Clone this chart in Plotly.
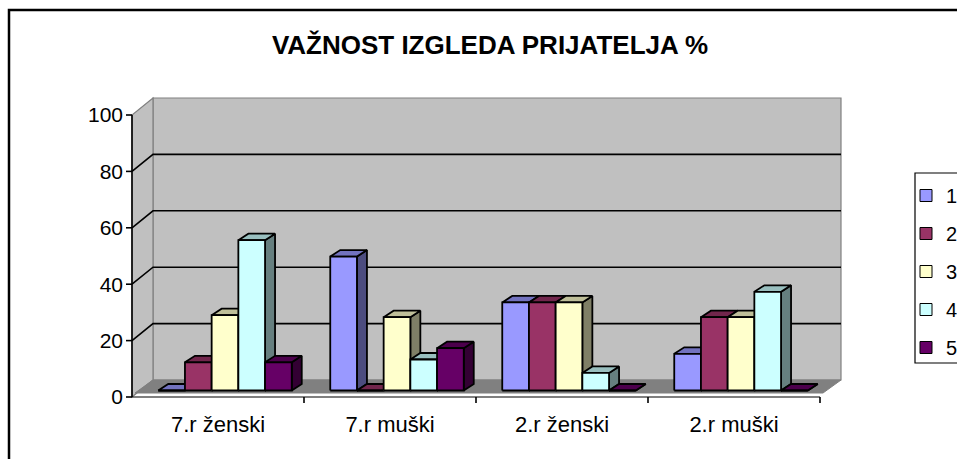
import plotly.graph_objects as go

# ---------------- data ----------------
categories = ["7.r ženski", "7.r muški", "2.r ženski", "2.r muški"]
series_names = ["1", "2", "3", "4", "5"]
s1 = [0, 47.5, 31.25, 13]
s2 = [10, 0, 31.25, 26]
s3 = [26.7, 26, 31.25, 26]
s4 = [53.3, 11, 6.25, 35]
s5 = [10, 15, 0, 0]
series_values = [s1, s2, s3, s4, s5]
y_ticks = [0, 20, 40, 60, 80, 100]
grid_values = [20, 40, 60, 80]
title_text = "VAŽNOST IZGLEDA PRIJATELJA %"

# ---------------- style ----------------
front_colors = ["#9999FF", "#993366", "#FFFFCC", "#CCFFFF", "#660066"]
FONT = "Arial, 'Liberation Sans', sans-serif"


def shade(hex_color, f):
    h = hex_color.lstrip("#")
    r, g, b = (int(h[i:i + 2], 16) for i in (0, 2, 4))
    return "#%02X%02X%02X" % (int(r * f), int(g * f), int(b * f))


top_colors = [shade(c, 0.75) for c in front_colors]
side_colors = [shade(c, 0.5) for c in front_colors]

W, H = 957, 459
PL, PR, PT, PB = 124, 850, 88, 404      # plot area in pixels
AXL, AXR, BASE = 132, 820, 397          # front axis in pixels
NCAT = len(categories)
PXX = (AXR - AXL) / NCAT                 # px per category unit
PXY = 2.82                               # px per value unit


def dx(p):
    return p / PXX


def dy(p):
    return p / PXY


x_range = [-0.5 - dx(AXL - PL), -0.5 + dx(PR - AXL)]
y_range = [-dy(PB - BASE), dy(BASE - PT)]

X0 = -0.5
X1 = NCAT - 0.5
WX, WY = dx(21), dy(17)          # wall depth offset
FX, FY = dx(3), dy(4)            # floor front offset
OX, OY = dx(7), dy(6.5)          # bar front-plane offset
BX, BY = dx(10), dy(6.5)         # bar depth
BW = dx(26.7)                    # bar width
NS = len(series_values)

fig = go.Figure()

# ---------- bars as 3D polygons (painter's order: series left to right) ----------
for j, vals in enumerate(series_values):
    fx, fyv, tx, tyv, sx, syv = [], [], [], [], [], []
    for c, v in enumerate(vals):
        x0 = c + OX - NS * BW / 2 + j * BW
        x1 = x0 + BW
        y0 = OY
        y1 = OY + v
        fx += [x0, x1, x1, x0, x0, None]
        fyv += [y0, y0, y1, y1, y0, None]
        tx += [x0, x1, x1 + BX, x0 + BX, x0, None]
        tyv += [y1, y1, y1 + BY, y1 + BY, y1, None]
        sx += [x1, x1 + BX, x1 + BX, x1, x1, None]
        syv += [y0, y0 + BY, y1 + BY, y1, y0, None]
    for xs, ys, col in ((sx, syv, side_colors[j]), (tx, tyv, top_colors[j]), (fx, fyv, front_colors[j])):
        fig.add_trace(go.Scatter(
            x=xs, y=ys, mode="lines", fill="toself", fillcolor=col,
            line=dict(color="black", width=1.8), showlegend=False,
            hoverinfo="skip"))

# legend entries
for j, name in enumerate(series_names):
    fig.add_trace(go.Bar(
        x=[None], y=[None], name=name, legendgroup=name,
        marker=dict(color=front_colors[j], line=dict(color="black", width=1))))

# ---------- walls, floor, gridlines, axes ----------
shapes = []


def poly(pts, fill, line_color, width, layer="below"):
    path = "M " + " L ".join("%f,%f" % p for p in pts) + " Z"
    return dict(type="path", xref="x", yref="y", path=path, fillcolor=fill,
                line=dict(color=line_color, width=width), layer=layer)


shapes.append(poly([(X0 + WX, WY), (X1 + WX, WY), (X1 + WX, 100 + WY), (X0 + WX, 100 + WY)],
                   "#C0C0C0", "#808080", 1.2))
shapes.append(poly([(X0, 0), (X0 + WX, WY), (X0 + WX, 100 + WY), (X0, 100)],
                   "#C0C0C0", "#808080", 1.2))
shapes.append(poly([(X0 + FX, FY), (X1 + FX, FY), (X1 + WX, WY), (X0 + WX, WY)],
                   "#808080", "#808080", 1))
for g in grid_values:
    shapes.append(dict(type="path", xref="x", yref="y", layer="below",
                       path="M %f,%f L %f,%f L %f,%f" % (X0, g, X0 + WX, g + WY, X1 + WX, g + WY),
                       line=dict(color="black", width=1.6)))
shapes.append(dict(type="line", xref="x", yref="y", x0=X0, x1=X0, y0=0, y1=100,
                   line=dict(color="black", width=1.6)))
for t in y_ticks:
    shapes.append(dict(type="line", xref="x", yref="y", x0=X0 - dx(6), x1=X0, y0=t, y1=t,
                       line=dict(color="black", width=1.6)))
shapes.append(dict(type="line", xref="x", yref="y", x0=X0, x1=X1, y0=0, y1=0,
                   line=dict(color="black", width=1.2)))
for c in range(NCAT):
    shapes.append(dict(type="line", xref="x", yref="y", x0=c + 0.5, x1=c + 0.5, y0=0, y1=-dy(6),
                       line=dict(color="black", width=1.6)))


def px_to_paper_x(p):
    return (p - PL) / (PR - PL)


def py_to_paper_y(p):
    return (PB - p) / (PB - PT)


shapes.append(dict(type="rect", xref="paper", yref="paper",
                   x0=px_to_paper_x(9), x1=px_to_paper_x(1000),
                   y0=py_to_paper_y(600), y1=py_to_paper_y(10),
                   line=dict(color="black", width=2.5), fillcolor="rgba(0,0,0,0)"))
shapes.append(dict(type="rect", xref="paper", yref="paper",
                   x0=px_to_paper_x(915), x1=px_to_paper_x(1000),
                   y0=py_to_paper_y(363), y1=py_to_paper_y(173),
                   line=dict(color="black", width=1.2), fillcolor="rgba(0,0,0,0)"))

fig.update_layout(
    width=W, height=H,
    margin=dict(l=PL, r=W - PR, t=PT, b=H - PB, pad=0, autoexpand=False),
    paper_bgcolor="white", plot_bgcolor="white",
    font=dict(family=FONT, color="black", size=20),
    title=dict(text="<b>" + title_text + "</b>", xref="container", yref="container",
               x=490 / W, y=1 - 45 / H, xanchor="center", yanchor="middle",
               font=dict(family=FONT, size=26, color="black")),
    shapes=shapes,
    showlegend=True,
    legend=dict(x=px_to_paper_x(906), y=py_to_paper_y(176), xanchor="left", yanchor="top",
                bgcolor="rgba(0,0,0,0)", borderwidth=0, traceorder="grouped",
                tracegroupgap=9, font=dict(family=FONT, size=20, color="black")),
    xaxis=dict(range=x_range, showgrid=False, zeroline=False, showline=False,
               tickmode="array", tickvals=list(range(NCAT)), ticktext=categories,
               ticks="", tickfont=dict(size=22), ticklabelstandoff=5, fixedrange=True),
    yaxis=dict(range=y_range, showgrid=False, zeroline=False, showline=False,
               tickmode="array", tickvals=y_ticks, ticks="",
               tickfont=dict(size=21), fixedrange=True),
)

fig.write_html("out.html", config={"displayModeBar": False},
               post_script="document.body.style.margin='0';document.body.style.overflow='hidden';")
